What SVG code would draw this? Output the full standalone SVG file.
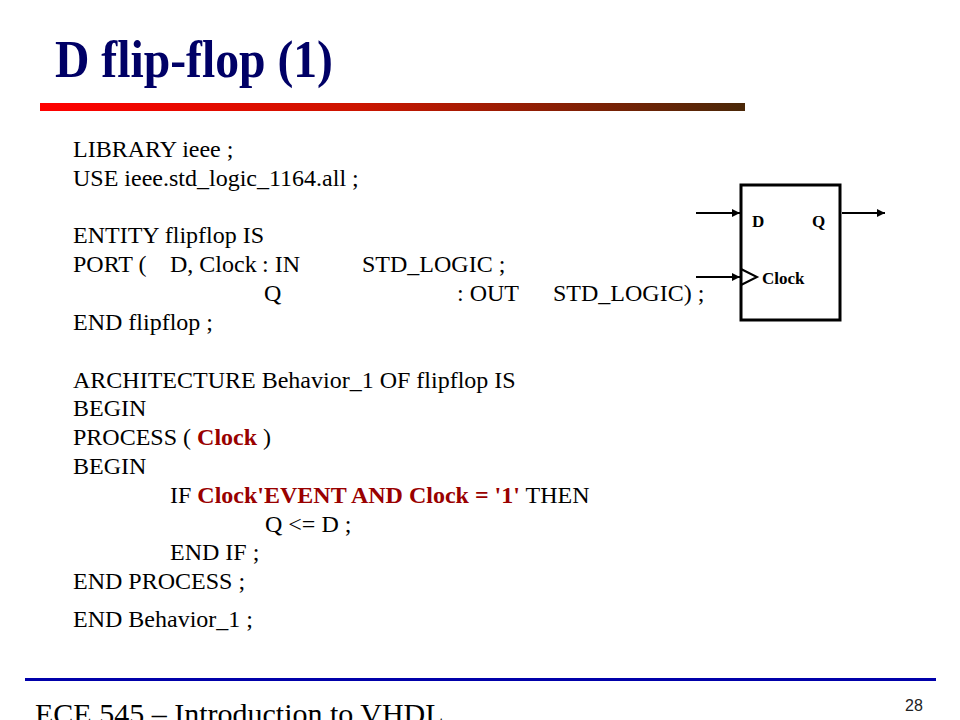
<svg xmlns="http://www.w3.org/2000/svg" width="960" height="720" viewBox="0 0 960 720">
<defs>
<linearGradient id="bar" x1="0" y1="0" x2="1" y2="0">
<stop offset="0" stop-color="#ff0000"/>
<stop offset="0.45" stop-color="#cc1500"/>
<stop offset="1" stop-color="#4a2808"/>
</linearGradient>
<marker id="arr" viewBox="0 0 10 10" refX="10" refY="5" markerWidth="11" markerHeight="8" markerUnits="userSpaceOnUse" orient="auto">
<path d="M0,0 L10,5 L0,10 z" fill="#000"/>
</marker>
<style>
.code{font-family:"Liberation Serif","Times New Roman",serif;font-size:24px;fill:#000}
.hl{fill:#990000;font-weight:bold}
.lbl{font-family:"Liberation Serif","Times New Roman",serif;font-size:17px;font-weight:bold;fill:#000}
.wire{stroke:#000;stroke-width:2;fill:none}
</style>
</defs>
<rect width="960" height="720" fill="#fff"/>
<text x="55" y="77" font-family="Liberation Serif, Times New Roman, serif" font-weight="bold" font-size="53" fill="#000066" textLength="278" lengthAdjust="spacingAndGlyphs">D flip-flop (1)</text>
<rect x="40" y="103" width="705" height="8" fill="url(#bar)"/>
<g id="code" class="code">
<text x="73" y="157">LIBRARY ieee ;</text>
<text x="73" y="186">USE ieee.std_logic_1164.all ;</text>
<text x="73" y="243">ENTITY flipflop IS</text>
<text x="73" y="272">PORT (</text>
<text x="170" y="272">D, Clock</text>
<text x="262" y="272">: IN</text>
<text x="362" y="272">STD_LOGIC ;</text>
<text x="264" y="301">Q</text>
<text x="457" y="301">: OUT</text>
<text x="553" y="301">STD_LOGIC) ;</text>
<text x="73" y="330">END flipflop ;</text>
<text x="73" y="388">ARCHITECTURE Behavior_1 OF flipflop IS</text>
<text x="73" y="416">BEGIN</text>
<text x="73" y="445">PROCESS ( <tspan class="hl">Clock</tspan> )</text>
<text x="73" y="474">BEGIN</text>
<text x="170" y="503">IF <tspan class="hl">Clock'EVENT AND Clock = '1'</tspan> THEN</text>
<text x="265" y="532">Q &lt;= D ;</text>
<text x="170" y="560">END IF ;</text>
<text x="73" y="589">END PROCESS ;</text>
<text x="73" y="627">END Behavior_1 ;</text>
</g>
<g id="flipflop">
<rect x="741" y="185" width="99" height="135" fill="#fff" stroke="#000" stroke-width="3"/>
<path d="M741,269 L757,277 L741,285" fill="none" stroke="#000" stroke-width="2"/>
<text class="lbl" x="752" y="227">D</text>
<text class="lbl" x="812" y="227">Q</text>
<text class="lbl" x="762" y="284">Clock</text>
</g>
<g id="connectors">
<line class="wire" x1="696" y1="213" x2="740" y2="213" marker-end="url(#arr)"/>
<line class="wire" x1="696" y1="277" x2="740" y2="277" marker-end="url(#arr)"/>
<line class="wire" x1="842" y1="213" x2="885" y2="213" marker-end="url(#arr)"/>
</g>
<rect x="25" y="678" width="911" height="3" fill="#0000aa"/>
<text x="35" y="724" font-family="Liberation Serif, Times New Roman, serif" font-size="30" fill="#000">ECE 545 – Introduction to VHDL</text>
<text x="905" y="711" font-family="Liberation Sans, Arial, sans-serif" font-size="16" fill="#222">28</text>
</svg>
